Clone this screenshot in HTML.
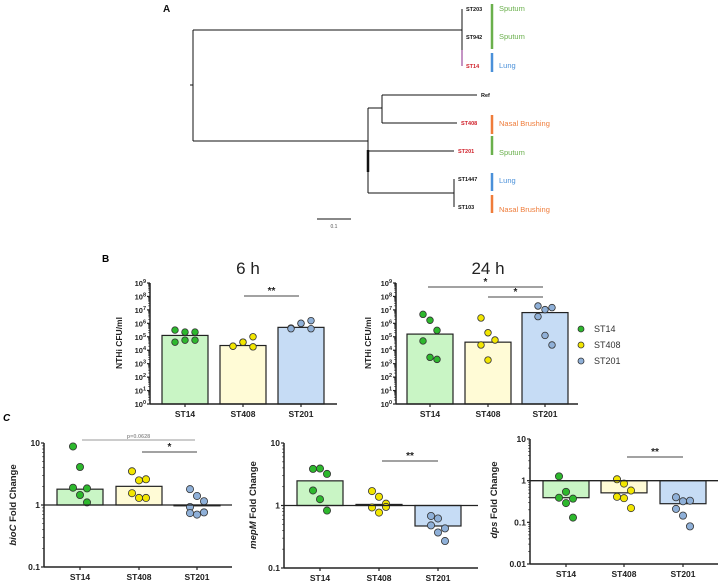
<!DOCTYPE html>
<html><head><meta charset="utf-8"><style>
html,body{margin:0;padding:0;background:#fff;width:720px;height:584px;overflow:hidden}
svg{display:block;font-family:"Liberation Sans",Arial,sans-serif}
</style></head><body>
<svg id="fig" width="720" height="584" viewBox="0 0 720 584" xmlns="http://www.w3.org/2000/svg">
<g id="tree" stroke="#111" stroke-width="1" fill="none">
  <text x="163" y="12" font-size="10" font-weight="bold" fill="#111" stroke="none">A</text>
  <line x1="190" y1="85" x2="193" y2="85"/>
  <line x1="193" y1="30" x2="193" y2="141"/>
  <line x1="193" y1="30" x2="462" y2="30"/>
  <line x1="462" y1="9" x2="462" y2="50"/>
  <line x1="462" y1="50" x2="462" y2="66" stroke="#8a2a8a"/>
  <line x1="193" y1="141" x2="368" y2="141"/>
  <line x1="368" y1="108" x2="368" y2="193"/>
  <line x1="368" y1="150" x2="368" y2="172" stroke-width="2.5"/>
  <line x1="368" y1="108" x2="382" y2="108"/>
  <line x1="382" y1="95" x2="382" y2="123"/>
  <line x1="382" y1="95" x2="477" y2="95"/>
  <line x1="382" y1="123" x2="457" y2="123"/>
  <line x1="368" y1="151" x2="454" y2="151"/>
  <line x1="368" y1="193" x2="454" y2="193"/>
  <line x1="454" y1="179" x2="454" y2="207"/>
  <line x1="317" y1="219" x2="351" y2="219"/>
  <g stroke="none" font-size="5.5" font-weight="bold">
    <text x="466" y="11" fill="#111">ST203</text>
    <text x="466" y="39" fill="#111">ST942</text>
    <text x="466" y="68" fill="#d0202a">ST14</text>
    <text x="481" y="97" fill="#111">Ref</text>
    <text x="461" y="125" fill="#d0202a">ST408</text>
    <text x="458" y="153" fill="#d0202a">ST201</text>
    <text x="458" y="181" fill="#111">ST1447</text>
    <text x="458" y="209" fill="#111">ST103</text>
    <text x="334" y="228" fill="#555" font-weight="normal" font-size="5" text-anchor="middle">0.1</text>
  </g>
  <g stroke-width="2.5">
    <line x1="492" y1="4" x2="492" y2="49" stroke="#6ab04c"/>
    <line x1="492" y1="53" x2="492" y2="72" stroke="#4a90d9"/>
    <line x1="492" y1="115" x2="492" y2="134" stroke="#ef7c3a"/>
    <line x1="492" y1="136" x2="492" y2="155" stroke="#6ab04c"/>
    <line x1="492" y1="173" x2="492" y2="191" stroke="#4a90d9"/>
    <line x1="492" y1="195" x2="492" y2="213" stroke="#ef7c3a"/>
  </g>
  <g stroke="none" font-size="7.5">
    <text x="499" y="11" fill="#6ab04c">Sputum</text>
    <text x="499" y="39" fill="#6ab04c">Sputum</text>
    <text x="499" y="68" fill="#4a90d9">Lung</text>
    <text x="499" y="126" fill="#ef7c3a">Nasal Brushing</text>
    <text x="499" y="155" fill="#6ab04c">Sputum</text>
    <text x="499" y="183" fill="#4a90d9">Lung</text>
    <text x="499" y="212" fill="#ef7c3a">Nasal Brushing</text>
  </g>
</g>
<text x="102" y="262" font-size="10" font-weight="bold">B</text>
<text x="3" y="421" font-size="10" font-weight="bold" font-style="italic">C</text>
<g id="legend" font-size="9" fill="#333">
  <circle cx="581" cy="329" r="3" fill="#2db82d" stroke="#333" stroke-width="0.8"/>
  <text x="594" y="332">ST14</text>
  <circle cx="581" cy="345" r="3" fill="#f2e600" stroke="#333" stroke-width="0.8"/>
  <text x="594" y="348">ST408</text>
  <circle cx="581" cy="361" r="3" fill="#8fb0d8" stroke="#333" stroke-width="0.8"/>
  <text x="594" y="364">ST201</text>
</g>
</svg>
<script>
const categories = ["ST14","ST408","ST201"];
// Panel B (log10 CFU/ml)
const b6Bars = [5.1, 4.35, 5.7];
const b6St14 = [5.5,5.35,5.35,4.6,4.75,4.75];
const b6St408 = [4.3,4.6,5.0,4.3,4.6,4.25];
const b6St201 = [5.65,6.0,6.2,5.6,6.0,5.6];
const b24Bars = [5.2, 4.6, 6.8];
const b24St14 = [6.67,6.23,5.48,4.69,3.47,3.32];
const b24St408 = [6.4,5.3,4.76,4.39,3.27];
const b24St201 = [7.29,7.02,7.17,6.5,5.1,4.39];
const bTickExps = [0,1,2,3,4,5,6,7,8,9];
// Panel C (fold change)
const bioCBars = [1.8, 2.0, 0.97];
const bioCSt14 = [8.8,4.1,1.85,1.9,1.45,1.1];
const bioCSt408 = [3.5,2.5,2.6,1.55,1.3,1.3];
const bioCSt201 = [1.8,1.4,1.15,0.93,0.7,0.76,0.74];
const mepMBars = [2.48, 1.04, 0.47];
const mepMSt14 = [3.85,3.9,3.2,1.74,1.26,0.83];
const mepMSt408 = [1.7,1.38,1.07,0.93,0.77,0.95];
const mepMSt201 = [0.68,0.62,0.43,0.48,0.37,0.27];
const dpsBars = [0.39, 0.51, 0.28];
const dpsSt14 = [1.27,0.54,0.37,0.39,0.29,0.13];
const dpsSt408 = [1.08,0.85,0.58,0.41,0.38,0.22];
const dpsSt201 = [0.40,0.32,0.33,0.21,0.145,0.08];
const cTicks12 = ["0.1","1","10"];
const cTicks3 = ["0.01","0.1","1","10"];

const NS="http://www.w3.org/2000/svg";
const svg=document.getElementById('fig');
const fills=["#c9f5c5","#fffbd6","#c6dcf5"];
const dots=["#2db82d","#f2e600","#8fb0d8"];
function mk(tag,attrs,parent){const e=document.createElementNS(NS,tag);for(const k in attrs)e.setAttribute(k,attrs[k]);(parent||svg).appendChild(e);return e;}

function chart(o){
  const g=mk('g',{});
  
  
  const y=v=>o.y0-(v-o.lmin)*(o.y0-o.y1)/(o.lmax-o.lmin);
  const xc=i=>o.cx[i];
  o.bars.forEach((bv,i)=>{
    const lv=o.log?Math.log10(bv):bv;
    const yb=y(o.base), yt=y(lv);
    const r=mk('rect',{x:xc(i)-o.bw/2,y:Math.min(yb,yt),width:o.bw,height:Math.abs(yb-yt),fill:fills[i],stroke:'#222','stroke-width':1.2},g);
    
    
  });
  o.pts.forEach((arr,i)=>{
    arr.forEach((v,j)=>{
      const lv=o.log?Math.log10(v):v;
      const off=((j%3)-1)*o.sp;
      const c=mk('circle',{cx:xc(i)+off,cy:y(lv),r:o.r,fill:dots[i],stroke:'#333','stroke-width':0.8},g);
      
      
    });
  });
  mk('line',{x1:o.ax,y1:o.y1,x2:o.ax,y2:o.y0,stroke:'#222','stroke-width':1.5},g);
  mk('line',{x1:o.ax,y1:o.y0,x2:o.xend,y2:o.y0,stroke:'#222','stroke-width':1.5},g);
  if(o.refLine) mk('line',{x1:o.ax,y1:y(0),x2:o.xend,y2:y(0),stroke:'#222','stroke-width':1.3},g);
  o.cx.forEach((c,i)=>{
    mk('line',{x1:c,y1:o.y0,x2:c,y2:o.y0+3,stroke:'#222','stroke-width':1.2},g);
    const t=mk('text',{x:c,y:o.y0+13,'font-size':8.5,'font-weight':'bold','text-anchor':'middle',fill:'#222'},g);
    t.textContent=categories[i];
    
    
  });
  o.ticks.forEach((lab,k)=>{
    const lv=o.lmin+k;
    mk('line',{x1:o.ax-3,y1:y(lv),x2:o.ax,y2:y(lv),stroke:'#222','stroke-width':1.2},g);
    if(lv<o.lmax) for(let m=2;m<10;m++){const yy=y(lv+Math.log10(m));mk('line',{x1:o.ax-1.8,y1:yy,x2:o.ax,y2:yy,stroke:'#222','stroke-width':0.7},g);}
    const t=mk('text',{x:o.ax-4,y:y(lv)+3,'font-size':o.tfs,'font-weight':'bold','text-anchor':'end',fill:'#222'},g);
    if(o.pow){t.textContent='10';const s=mk('tspan',{'font-size':5.5,dy:-3},t);s.textContent=String(lab);}
    else t.textContent=lab;
    
    
  });
  const yl=mk('text',{transform:`translate(${o.ylx},${o.yly}) rotate(-90)`,'font-size':o.ylfs,'font-weight':'bold','text-anchor':'middle',fill:'#222'},g);
  if(o.ylIt){const a=mk('tspan',{'font-style':'italic'},yl);a.textContent=o.ylIt+' ';const b=mk('tspan',{},yl);b.textContent=o.ylab;}
  else yl.textContent=o.ylab;
  
  
  o.sig.forEach(s=>{
    mk('line',{x1:s[0],y1:s[2],x2:s[1],y2:s[2],stroke:s[4]||'#444','stroke-width':0.9},g);
    const t=mk('text',{x:(s[0]+s[1])/2,y:s[2]-2,'font-size':s[5]||10,'font-weight':'bold','text-anchor':'middle',fill:s[4]||'#222'},g);
    t.textContent=s[3];
    
    
  });
  if(o.title){const t=mk('text',{x:o.title[1],y:o.title[2],'font-size':17,'text-anchor':'middle',fill:'#222'},g);t.textContent=o.title[0];
    
    }
}
chart({name:'chart-6h',log:false,lmin:0,lmax:9,y0:404,y1:283,base:0,ax:150,xend:337,cx:[185,243,301],bw:46,bars:b6Bars,pts:[b6St14,b6St408,b6St201],r:3.3,sp:10,ticks:bTickExps,pow:true,tfs:7.5,ylx:122,yly:343,ylab:'NTHi CFU/ml',ylfs:8.5,sig:[[244,299,296,'**']],title:['6 h',248,274]});
chart({name:'chart-24h',log:false,lmin:0,lmax:9,y0:404,y1:283,base:0,ax:396,xend:578,cx:[430,488,545],bw:46,bars:b24Bars,pts:[b24St14,b24St408,b24St201],r:3.3,sp:7,ticks:bTickExps,pow:true,tfs:7.5,ylx:371,yly:343,ylab:'NTHi CFU/ml',ylfs:8.5,sig:[[428,543,287,'*'],[488,543,297,'*']],title:['24 h',488,274]});
chart({name:'chart-bioc',log:true,lmin:-1,lmax:1,y0:567,y1:443,base:0,ax:44,xend:232,cx:[80,139,197],bw:46,bars:bioCBars,pts:[bioCSt14,bioCSt408,bioCSt201],r:3.6,sp:7,ticks:cTicks12,pow:false,tfs:8.5,refLine:true,ylx:16,yly:505,ylIt:'bioC',ylab:'Fold Change',ylfs:9.5,sig:[[82,195,440,'p=0.0628','#999',5.5],[142,197,452,'*']]});
chart({name:'chart-mepm',log:true,lmin:-1,lmax:1,y0:568,y1:443,base:0,ax:284,xend:478,cx:[320,379,438],bw:46,bars:mepMBars,pts:[mepMSt14,mepMSt408,mepMSt201],r:3.6,sp:7,ticks:cTicks12,pow:false,tfs:8.5,refLine:true,ylx:256,yly:505,ylIt:'mepM',ylab:'Fold Change',ylfs:9.5,sig:[[382,438,461,'**']]});
chart({name:'chart-dps',log:true,lmin:-2,lmax:1,y0:564,y1:439,base:0,ax:530,xend:718,cx:[566,624,683],bw:46,bars:dpsBars,pts:[dpsSt14,dpsSt408,dpsSt201],r:3.6,sp:7,ticks:cTicks3,pow:false,tfs:8.5,refLine:true,ylx:497,yly:500,ylIt:'dps',ylab:'Fold Change',ylfs:9.5,sig:[[627,683,457,'**']]});
</script>
</body></html>
